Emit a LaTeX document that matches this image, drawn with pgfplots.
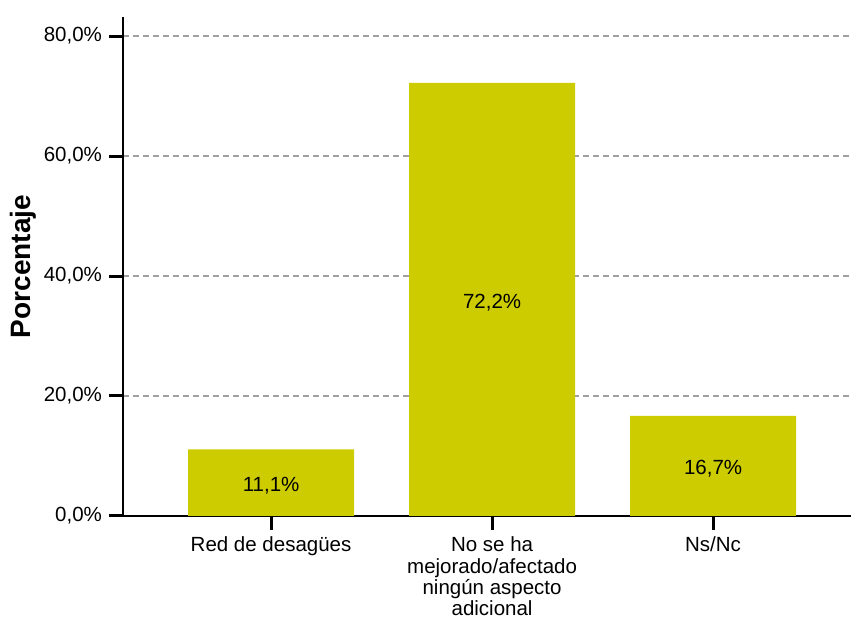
\documentclass[border=0pt]{standalone}
\usepackage{pgfplots}
\pgfplotsset{compat=1.18}
\usepackage{pgfplotstable}
\usepackage{fontspec}
\setmainfont{Liberation Sans}

\definecolor{barolive}{RGB}{204,204,0}
\definecolor{gridgray}{RGB}{160,160,160}

\pgfplotstableread{
x y
0 11.1
1 72.2
2 16.7
}\datos

\begin{document}
\fontsize{20.5}{21.5}\selectfont
\begin{tikzpicture}
\useasboundingbox (-123pt,-101pt) rectangle (728pt,516pt);
\begin{axis}[
    scale only axis,
    width=728pt, height=499pt,
    xmin=-0.67, xmax=2.624,
    ymin=0, ymax=83.17,
    axis x line=bottom, axis y line=left,
    axis line style={-, line width=1.5pt, black},
    xtick=data,
    xticklabels={Red de desagües, {No se ha\\mejorado/afectado\\ningún aspecto\\adicional}, Ns/Nc},
    xticklabel style={align=center, font=\fontsize{20.5}{21.3}\selectfont},
    ytick={0,20,40,60,80},
    yticklabel={\pgfmathprintnumber{\tick}\%},
    yticklabel style={font=\fontsize{20.5}{21.5}\selectfont},
    /pgf/number format/.cd, use comma, fixed, fixed zerofill, precision=1, assume math mode=true,
    /pgfplots/.cd,
    tick align=outside,
    major tick length=14pt,
    every tick/.style={line width=3pt, black},
    ymajorgrids=true,
    grid style={dashed, gridgray, line width=1.5pt, dash pattern=on 6pt off 4pt},
    ylabel={\bfseries Porcentaje},
    every axis y label/.style={at={(axis description cs:0,0.5)}, xshift=-100pt, rotate=90, anchor=center, font=\fontsize{28}{30}\selectfont\bfseries},
]
\addplot[ybar, bar width=166pt, fill=barolive, draw=none] table[x=x, y=y] {\datos};
\addplot[draw=none, mark=none, nodes near coords,
    point meta=\thisrow{y},
    nodes near coords={\pgfmathprintnumber[use comma,fixed,fixed zerofill,precision=1]{\pgfplotspointmeta}\%},
    every node near coord/.append style={anchor=center, yshift=-3pt, text=black, font=\fontsize{20.5}{21.5}\selectfont}]
    table[x=x, y expr=\thisrow{y}/2] {\datos};
\end{axis}
\end{tikzpicture}
\end{document}
